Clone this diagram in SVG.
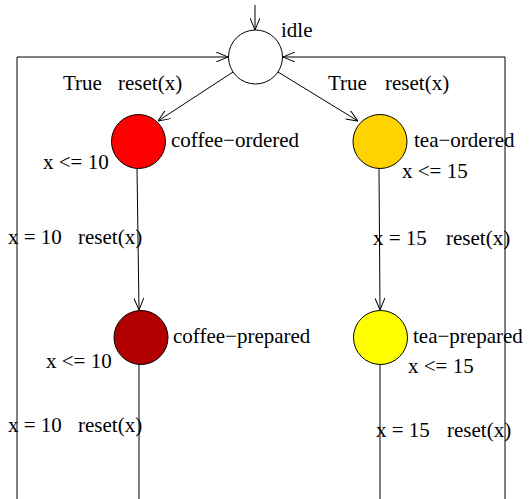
<svg xmlns="http://www.w3.org/2000/svg" width="530" height="499" viewBox="0 0 530 499">
  <style>
    .loc { stroke: #000; stroke-width: 1; }
    .edge { fill: none; stroke: #000; stroke-width: 1; }
    text { font-family: "Liberation Serif", "Times New Roman", serif; font-size: 21px; fill: #000; }
  </style>
  <defs>
    <marker id="open" viewBox="0 0 12 10" refX="12" refY="5" markerWidth="12" markerHeight="10" markerUnits="userSpaceOnUse" orient="auto">
      <path d="M0,0 L12,5 L0,10" fill="none" stroke="#000" stroke-width="1"/>
    </marker>
  </defs>
  <rect width="530" height="499" fill="#fff"/>

  <!-- transitions -->
  <g id="edges">
    <line class="edge" x1="255" y1="5" x2="255" y2="30" marker-end="url(#open)"/>
    <line class="edge" x1="233" y1="72" x2="158" y2="121" marker-end="url(#open)"/>
    <line class="edge" x1="278" y1="72" x2="358" y2="121" marker-end="url(#open)"/>
    <line class="edge" x1="137" y1="168" x2="139" y2="310" marker-end="url(#open)"/>
    <line class="edge" x1="379" y1="168" x2="380" y2="310" marker-end="url(#open)"/>
    <polyline class="edge" points="139,364 139,499"/>
    <polyline class="edge" points="380,364 380,499"/>
    <polyline class="edge" points="17,499 17,57 228,57" marker-end="url(#open)"/>
    <polyline class="edge" points="505,499 505,57 283,57" marker-end="url(#open)"/>
  </g>

  <!-- edge labels -->
  <g id="labels">
    <text x="63" y="90">True</text>
    <text x="118" y="90">reset(x)</text>
    <text x="328" y="90">True</text>
    <text x="385" y="90">reset(x)</text>
    <text x="8" y="244">x = 10</text>
    <text x="78" y="244">reset(x)</text>
    <text x="373" y="245">x = 15</text>
    <text x="446" y="245">reset(x)</text>
    <text x="8" y="432">x = 10</text>
    <text x="78" y="432">reset(x)</text>
    <text x="376" y="437">x = 15</text>
    <text x="447" y="437">reset(x)</text>
  </g>

  <g id="idle">
    <circle class="loc" cx="255.5" cy="57" r="27" fill="#fff"/>
    <text x="281" y="37">idle</text>
  </g>
  <g id="coffee-ordered">
    <circle class="loc" cx="138.5" cy="141.5" r="27" fill="#ff0000"/>
    <text x="171" y="147">coffee−ordered</text>
    <text x="43" y="169">x &lt;= 10</text>
  </g>
  <g id="tea-ordered">
    <circle class="loc" cx="380" cy="141.5" r="27" fill="#ffd200"/>
    <text x="414" y="147">tea−ordered</text>
    <text x="402" y="178">x &lt;= 15</text>
  </g>
  <g id="coffee-prepared">
    <circle class="loc" cx="141" cy="337.5" r="27" fill="#b00000"/>
    <text x="173" y="343">coffee−prepared</text>
    <text x="46" y="368">x &lt;= 10</text>
  </g>
  <g id="tea-prepared">
    <circle class="loc" cx="380.5" cy="337.5" r="27" fill="#ffff00"/>
    <text x="413" y="343">tea−prepared</text>
    <text x="408" y="373">x &lt;= 15</text>
  </g>
</svg>
